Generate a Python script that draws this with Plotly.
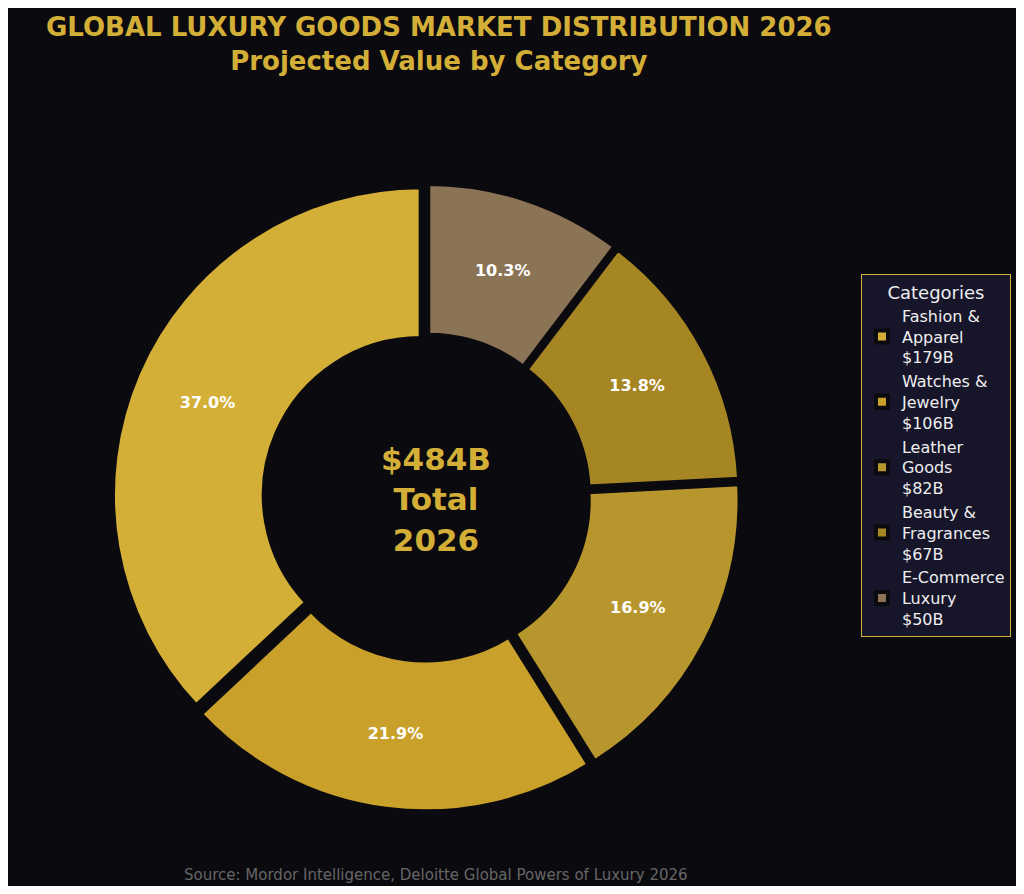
import plotly.graph_objects as go

categories = ["Fashion &<br>Apparel", "Watches &<br>Jewelry", "Leather<br>Goods", "Beauty &<br>Fragrances", "E-Commerce<br>Luxury"]
values = [179, 106, 82, 67, 50]
colors = ["#D4AF37", "#C9A02A", "#B8962E", "#A68523", "#8B7355"]

labels = [f"{c}<br>${v}B" for c, v in zip(categories, values)]

fig = go.Figure(go.Pie(
    labels=labels[::-1], values=values[::-1], hole=0.51, sort=False, direction="clockwise",
    rotation=0, marker=dict(colors=colors[::-1], line=dict(color="#0b0a0f", width=4)),
    pull=[0.02]*5, textinfo="percent", texttemplate="<b>%{percent:.1%}</b>",
    textfont=dict(color="white", size=16, family="DejaVu Sans"), insidetextfont=dict(color="white", size=16),
    domain=dict(x=[0.1, 0.73], y=[0.085, 0.80]),
))
fig.update_layout(
    width=1008, height=878, paper_bgcolor="#0b0a0f", plot_bgcolor="#0b0a0f",
    margin=dict(l=0, r=0, t=0, b=0),
    font=dict(family="DejaVu Sans", color="#eeeeee"),
    legend=dict(title=dict(text="Categories", font=dict(size=18, color="#eeeeee"), side="top center"),
                x=0.995, xanchor="right", y=0.49, yanchor="middle", traceorder="reversed",
                bgcolor="#16152a", bordercolor="#D4AF37", borderwidth=1,
                font=dict(size=16, color="#eeeeee")),
    annotations=[
        dict(text="<b>GLOBAL LUXURY GOODS MARKET DISTRIBUTION 2026<br>Projected Value by Category</b>",
             x=0.428, y=1.0, xref="paper", yref="paper", yanchor="top", yshift=-2, showarrow=False,
             font=dict(size=26, color="#D4AF37", family="DejaVu Sans")),
        dict(text="<b>$484B<br>Total<br>2026</b>", x=0.425, y=0.44, xref="paper", yref="paper",
             showarrow=False, font=dict(size=31, color="#D4AF37", family="DejaVu Sans")),
        dict(text="Source: Mordor Intelligence, Deloitte Global Powers of Luxury 2026", x=0.425, y=0.0,
             xref="paper", yref="paper", yanchor="bottom", showarrow=False,
             font=dict(size=15, color="#666666")),
    ],
)
fig.write_html("out.html")
